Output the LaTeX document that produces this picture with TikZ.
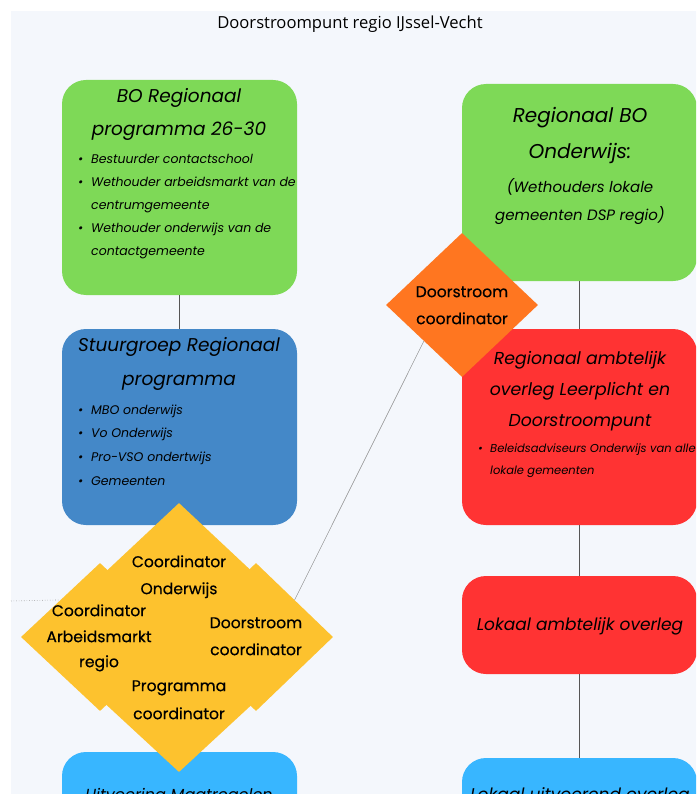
\documentclass[tikz,border=0pt]{standalone}
\usepackage{fontspec}
\usetikzlibrary{shapes.geometric}
\newfontfamily\boxfont{Poppins}
\newfontfamily\diafont[FakeBold=0.4]{Poppins}
\newfontfamily\headfont{Open Sans}
\definecolor{bgc}{RGB}{244,247,252}
\definecolor{grn}{RGB}{126,217,87}
\definecolor{blu}{RGB}{68,136,200}
\definecolor{lbl}{RGB}{56,182,255}
\definecolor{rd}{RGB}{255,51,51}
\definecolor{org}{RGB}{255,118,32}
\definecolor{yel}{RGB}{253,194,46}
\definecolor{lnc}{RGB}{85,85,85}
\tikzset{
  box/.style={rectangle, rounded corners=24pt, inner sep=0pt, draw=none},
  dia/.style={diamond, inner sep=0pt, draw=none, fill=yel, minimum width=158, minimum height=148},
  ttl/.style={anchor=mid, inner sep=0pt, yshift=-3pt, font=\boxfont\itshape\fontsize{18.5}{22}\selectfont},
  rttl/.style={anchor=mid, inner sep=0pt, yshift=-3pt, font=\boxfont\itshape\fontsize{17.3}{21}\selectfont},
  sub/.style={anchor=mid, inner sep=0pt, yshift=-3pt, font=\boxfont\itshape\fontsize{15}{18}\selectfont},
  itm/.style={anchor=mid west, inner sep=0pt, yshift=-3pt, font=\boxfont\itshape\fontsize{12.5}{15}\selectfont},
  itms/.style={anchor=mid west, inner sep=0pt, yshift=-3pt, font=\boxfont\itshape\fontsize{11.5}{14}\selectfont},
  dtx/.style={anchor=mid, inner sep=0pt, yshift=-3pt, font=\diafont\fontsize{15.6}{18}\selectfont},
  conn/.style={draw=lnc, line width=1.2pt}
}
\begin{document}
\begin{tikzpicture}[x=1pt,y=-1pt]
\useasboundingbox (0,0) rectangle (696,794);
\clip (0,0) rectangle (696,794);
\fill[bgc] (11,11) rectangle (700,800);

\node[anchor=mid, inner sep=0pt, yshift=-3pt, font=\headfont\fontsize{16.6}{19}\selectfont] (title) at (350,23) {Doorstroompunt regio IJssel-Vecht};

% boxes
\node[box, fill=grn, minimum width=235, minimum height=215] (bo) at (179.5,187.5) {};
\node[box, fill=blu, minimum width=235, minimum height=196] (sg) at (179.5,427) {};
\node[box, fill=lbl, minimum width=235, minimum height=108] (uit) at (179.5,806) {};
\node[box, fill=grn, minimum width=235, minimum height=197] (rbo) at (579.5,182.5) {};
\node[box, fill=rd, minimum width=235, minimum height=196] (rao) at (579.5,427) {};
\node[box, fill=rd, minimum width=235, minimum height=98] (lao) at (579.5,625) {};
\node[box, fill=lbl, minimum width=235, minimum height=108] (luo) at (579.5,812) {};

% connectors between boxes
\draw[conn] (bo.south) -- (sg.north);
\draw[conn] (rbo.south) -- (rao.north);
\draw[conn] (rao.south) -- (lao.north);
\draw[conn] (lao.south) -- (luo.north);

% diamonds
\node[dia] (ydt) at (179,577) {};
\node[dia] (ydl) at (100,637) {};
\node[dia, minimum width=154] (ydr) at (256,637) {};
\node[dia, minimum height=146] (ydb) at (179,699) {};
\node[diamond, inner sep=0pt, draw=none, fill=org, minimum width=152, minimum height=144] (dc) at (462,305) {};

% thin connectors
\coordinate (lend) at (11,601);
\draw[gray!80, line width=0.6pt, dotted] (lend) -- (ydl.north west);
\draw[gray!90, line width=0.5pt] (dc.south west) -- (ydr.north east);

% left green text
\node[ttl] (bo1) at (179,97) {BO Regionaal};
\node[ttl] (bo2) at (179,130) {programma 26-30};
\node[itm] (bob1) at (78,158) {\textbullet};
\node[itm] (bot1) at (91,158) {Bestuurder contactschool};
\node[itm] (bob2) at (78,181) {\textbullet};
\node[itm] (bot2) at (91,181) {Wethouder arbeidsmarkt van de};
\node[itm] (bot3) at (91,204) {centrumgemeente};
\node[itm] (bob3) at (78,227) {\textbullet};
\node[itm] (bot4) at (91,227) {Wethouder onderwijs van de};
\node[itm] (bot5) at (91,250) {contactgemeente};

% blue text
\node[ttl] (sg1) at (179,346) {Stuurgroep Regionaal};
\node[ttl] (sg2) at (179,380) {programma};
\node[itm] (sgb1) at (78,409) {\textbullet};
\node[itm] (sgt1) at (91,409) {MBO onderwijs};
\node[itm] (sgb2) at (78,432) {\textbullet};
\node[itm] (sgt2) at (91,432) {Vo Onderwijs};
\node[itm] (sgb3) at (78,456) {\textbullet};
\node[itm] (sgt3) at (91,456) {Pro-VSO ondertwijs};
\node[itm] (sgb4) at (78,480) {\textbullet};
\node[itm] (sgt4) at (91,480) {Gemeenten};

% right green text
\node[ttl, font=\boxfont\itshape\fontsize{20}{24}\selectfont] (rb1) at (580,117) {Regionaal BO};
\node[ttl, font=\boxfont\itshape\fontsize{20}{24}\selectfont] (rb2) at (580,153) {Onderwijs:};
\node[sub] (rb3) at (580,187) {(Wethouders lokale};
\node[sub] (rb4) at (580,215) {gemeenten DSP regio)};

% red text
\node[rttl] (ra1) at (580,359) {Regionaal ambtelijk};
\node[rttl] (ra2) at (580,390) {overleg Leerplicht en};
\node[rttl] (ra3) at (580,421) {Doorstroompunt};
\node[itms] (rab1) at (478,447) {\textbullet};
\node[itms] (rat1) at (490,447) {Beleidsadviseurs Onderwijs van alle};
\node[itms] (rat2) at (490,469) {lokale gemeenten};

\node[ttl, font=\boxfont\itshape\fontsize{17}{20}\selectfont] (la1) at (580,625) {Lokaal ambtelijk overleg};

% bottom boxes text (cut off at the lower edge, as in the reference)
\node[ttl, font=\boxfont\itshape\fontsize{16}{20}\selectfont] (ui1) at (179,795) {Uitvoering Maatregelen};
\node[ttl, font=\boxfont\itshape\fontsize{17}{20}\selectfont] (lu1) at (580,795) {Lokaal uitvoerend overleg};

% diamond text
\node[dtx] (dt1) at (179,562) {Coordinator};
\node[dtx] (dt2) at (179,589) {Onderwijs};
\node[dtx] (dl1) at (99,611) {Coordinator};
\node[dtx] (dl2) at (99,637) {Arbeidsmarkt};
\node[dtx] (dl3) at (99,662) {regio};
\node[dtx] (dr1) at (256,623) {Doorstroom};
\node[dtx] (dr2) at (256,650) {coordinator};
\node[dtx] (db1) at (179,686) {Programma};
\node[dtx] (db2) at (179,714) {coordinator};
\node[dtx] (dc1) at (462,292) {Doorstroom};
\node[dtx] (dc2) at (462,319) {coordinator};
\end{tikzpicture}
\end{document}
